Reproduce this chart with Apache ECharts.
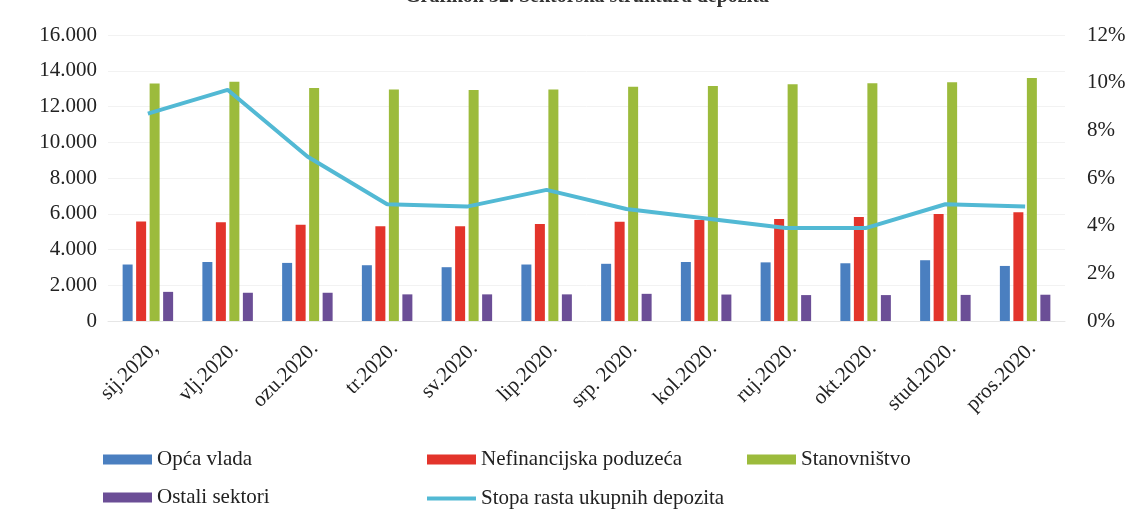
<!DOCTYPE html>
<html>
<head>
<meta charset="utf-8">
<script src="https://cdn.jsdelivr.net/npm/echarts@6/dist/echarts.min.js"></script>
<style>
  html, body { margin: 0; padding: 0; background: #fff; }
  #chart { width: 1138px; height: 526px; }
</style>
</head>
<body>
<div id="chart"></div>
<script>
// Sektorska struktura depozita, 2020 (mil. kn / %)
const months = ['sij.2020,', 'vlj.2020.', 'ozu.2020.', 'tr.2020.', 'sv.2020.', 'lip.2020.',
  'srp. 2020.', 'kol.2020.', 'ruj.2020.', 'okt.2020.', 'stud.2020.', 'pros.2020.']

const opcaVlada = [3160, 3300, 3250, 3120, 3010, 3160, 3200, 3300, 3280, 3230, 3400, 3080]
const nefinancijska = [5570, 5520, 5390, 5300, 5300, 5420, 5550, 5650, 5700, 5820, 5980, 6080]
const stanovnistvo = [13280, 13380, 13040, 12950, 12930, 12950, 13100, 13150, 13240, 13300, 13350, 13600]
const ostali = [1630, 1580, 1580, 1490, 1490, 1490, 1520, 1480, 1450, 1450, 1460, 1470]
const stopaRasta = [8.7, 9.7, 6.9, 4.9, 4.8, 5.5, 4.7, 4.3, 3.9, 3.9, 4.9, 4.8]

const font = 'Liberation Serif'
const textColor = '#222'
const lineColor = '#52b9d4'

const chart = echarts.init(document.getElementById('chart'))

const barSeries = (name, data, color) => ({
  name,
  type: 'bar',
  data,
  barWidth: 10,
  barGap: '35%',
  itemStyle: { color },
})

const legendText = { fontFamily: font, fontSize: 21, color: textColor }

const legendBox = (left, top, data, extra) => ({
  left,
  top,
  padding: 0,
  orient: 'vertical',
  itemGap: 17,
  itemWidth: 49,
  itemHeight: 10,
  icon: 'rect',
  textStyle: legendText,
  data,
  ...extra,
})

chart.setOption({
  animation: false,
  textStyle: { fontFamily: font, color: textColor },
  title: {
    text: 'Grafikon 32. Sektorska struktura depozita',
    left: 582,
    textAlign: 'center',
    top: -18,
    textStyle: { fontFamily: font, fontSize: 20, fontWeight: 'bold', color: '#333' },
  },
  grid: { left: 108, right: 73, top: 35, bottom: 205 },
  legend: [
    legendBox(103, 449, ['Opća vlada', 'Ostali sektori']),
    legendBox(427, 449, ['Nefinancijska poduzeća']),
    legendBox(747, 449, ['Stanovništvo']),
    legendBox(427, 488, ['Stopa rasta ukupnih depozita'], { itemHeight: 4 }),
  ],
  xAxis: {
    type: 'category',
    data: months,
    axisLine: { lineStyle: { color: '#e6e6e6' } },
    axisTick: { show: false },
    axisLabel: {
      rotate: 45,
      margin: 17,
      interval: 0,
      verticalAlign: 'top',
      fontFamily: font,
      fontSize: 21,
      color: textColor,
    },
  },
  yAxis: [
    {
      type: 'value',
      min: 0,
      max: 16000,
      interval: 2000,
      axisLabel: {
        margin: 11,
        fontFamily: font,
        fontSize: 21,
        color: textColor,
        formatter: (v) => (v === 0 ? '0' : v / 1000 + '.000'),
      },
      splitLine: { lineStyle: { color: '#f2f2f2' } },
    },
    {
      type: 'value',
      min: 0,
      max: 12,
      interval: 2,
      axisLabel: {
        margin: 22,
        fontFamily: font,
        fontSize: 21,
        color: textColor,
        formatter: '{value}%',
      },
      splitLine: { show: false },
    },
  ],
  series: [
    barSeries('Opća vlada', opcaVlada, '#4a7fc0'),
    barSeries('Nefinancijska poduzeća', nefinancijska, '#e3342b'),
    barSeries('Stanovništvo', stanovnistvo, '#9cbb3c'),
    barSeries('Ostali sektori', ostali, '#6b4e96'),
    {
      name: 'Stopa rasta ukupnih depozita',
      type: 'line',
      yAxisIndex: 1,
      data: stopaRasta,
      symbol: 'none',
      lineStyle: { width: 4, color: lineColor },
      itemStyle: { color: lineColor },
    },
  ],
})
</script>
</body>
</html>
